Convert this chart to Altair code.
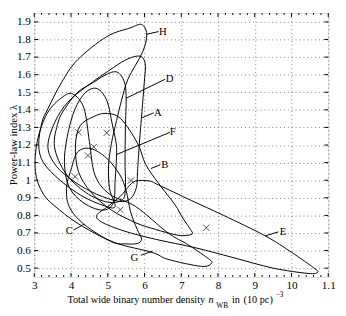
import altair as alt
import pandas as pd

# ---------------- data ----------------
X_TICKS = [3, 4, 5, 6, 7, 8, 9, 10, 11]
X_TICK_LABELS = ["3", "4", "5", "6", "7", "8", "9", "10", "1.1"]
Y_TICKS = [0.5, 0.6, 0.7, 0.8, 0.9, 1.0, 1.1, 1.2, 1.3, 1.4, 1.5, 1.6, 1.7, 1.8, 1.9]
Y_TICK_LABELS = ["0.5", "0.6", "0.7", "0.8", "0.9", "1", "1.1", "1.2", "1.3", "1.4",
                 "1.5", "1.6", "1.7", "1.8", "1.9"]
X_MINOR = [round(m + k * 0.2, 1) for m in X_TICKS[:-1] for k in (1, 2, 3, 4)]

H_X = [5.60, 5.92, 6.06, 5.95, 5.55, 5.37, 5.24, 5.10, 5.02, 5.05, 5.20, 4.90, 4.30, 3.70, 3.25, 3.12, 3.21, 3.38, 3.74, 4.18, 4.97]
H_Y = [1.865, 1.885, 1.83, 1.73, 1.575, 1.45, 1.34, 1.21, 1.08, 0.95, 0.85, 0.855, 0.91, 1.00, 1.10, 1.20, 1.33, 1.41, 1.555, 1.685, 1.816]

A_X = [5.55, 5.88, 6.02, 5.99, 5.93, 5.86, 5.81, 5.78, 5.62, 5.30, 4.70, 4.10, 3.60, 3.37, 3.56, 3.91, 4.44, 5.15]
A_Y = [1.69, 1.705, 1.66, 1.55, 1.39, 1.21, 1.05, 0.96, 0.895, 0.88, 0.92, 0.99, 1.08, 1.19, 1.33, 1.443, 1.536, 1.64]

D_X = [4.95, 5.25, 5.45, 5.50, 5.48, 5.47, 5.48, 5.40, 5.00, 4.40, 3.85, 3.55, 3.65, 3.83, 4.18, 4.61]
D_Y = [1.60, 1.615, 1.56, 1.466, 1.30, 1.10, 0.96, 0.89, 0.875, 0.93, 1.04, 1.19, 1.33, 1.406, 1.50, 1.556]

F_X = [4.40, 4.72, 4.98, 5.12, 5.22, 5.24, 5.20, 5.15, 4.85, 4.35, 3.95, 3.82, 3.90, 4.10]
F_Y = [1.50, 1.52, 1.45, 1.32, 1.22, 1.146, 1.00, 0.87, 0.83, 0.87, 0.96, 1.10, 1.25, 1.40]

B_X = [4.60, 4.95, 5.35, 5.81, 6.03, 6.39, 6.83, 7.04, 7.25, 7.30, 7.10, 6.83, 6.30, 5.77, 5.10, 4.55, 4.20, 4.12, 4.25]
B_Y = [1.36, 1.38, 1.35, 1.21, 1.09, 0.98, 0.86, 0.785, 0.72, 0.695, 0.685, 0.69, 0.72, 0.757, 0.83, 0.93, 1.05, 1.20, 1.31]

C_X = [4.18, 4.53, 4.97, 5.33, 5.50, 5.62, 5.80, 5.92, 5.80, 5.50, 5.10, 4.35, 3.95, 3.88, 4.00]
C_Y = [1.16, 1.18, 1.125, 1.03, 0.94, 0.82, 0.72, 0.665, 0.64, 0.638, 0.65, 0.75, 0.85, 0.96, 1.06]

G_X = [3.75, 4.05, 4.35, 4.50, 4.65, 5.05, 5.76, 6.64, 7.17, 7.70, 7.83, 7.55, 6.64, 6.20, 5.19, 4.31, 3.69, 3.25, 3.03, 3.08, 3.35]
G_Y = [1.47, 1.49, 1.41, 1.22, 1.03, 0.92, 0.85, 0.70, 0.635, 0.56, 0.53, 0.51, 0.55, 0.59, 0.645, 0.738, 0.83, 0.92, 1.05, 1.22, 1.38]

E_X = [5.55, 5.75, 6.12, 6.39, 7.27, 8.15, 9.28, 10.0, 10.55, 10.72, 10.45, 9.50, 8.41, 7.40, 6.30, 5.46, 4.85, 4.70, 5.00, 5.35]
E_Y = [0.96, 0.995, 0.996, 0.972, 0.885, 0.80, 0.684, 0.59, 0.51, 0.478, 0.47, 0.50, 0.56, 0.615, 0.664, 0.71, 0.76, 0.80, 0.85, 0.91]

CURVES = {"H": (H_X, H_Y), "A": (A_X, A_Y), "D": (D_X, D_Y), "F": (F_X, F_Y),
          "B": (B_X, B_Y), "C": (C_X, C_Y), "G": (G_X, G_Y), "E": (E_X, E_Y)}

MARK_X = [4.205, 4.97, 4.62, 4.46, 4.11, 5.63, 5.34, 7.68]
MARK_Y = [1.272, 1.269, 1.189, 1.140, 1.020, 0.998, 0.832, 0.730]

LABEL_NAMES = ["H", "D", "A", "F", "B", "C", "G", "E"]
LABEL_X = [6.50, 6.68, 6.36, 6.77, 6.55, 3.95, 5.72, 9.77]
LABEL_Y = [1.845, 1.574, 1.383, 1.272, 1.084, 0.713, 0.557, 0.706]
LEAD_X1 = [6.06, 5.50, 5.93, 5.24, 6.17, 4.36, 6.21, 9.29]
LEAD_Y1 = [1.83, 1.466, 1.355, 1.146, 1.066, 0.75, 0.596, 0.684]
LEAD_X2 = [6.38, 6.56, 6.25, 6.69, 6.43, 4.07, 5.90, 9.64]
LEAD_Y2 = [1.845, 1.574, 1.383, 1.272, 1.088, 0.717, 0.573, 0.706]

Y_TITLE = "Power-law index λ"
X_TITLE_1 = "Total wide binary number density"
X_TITLE_N = "n"
X_TITLE_SUB = "WB"
X_TITLE_2 = "in"
X_TITLE_3 = "(10 pc)"
X_TITLE_SUP = "−3"

# ---------------- tables ----------------
rows = []
for name, (xs_, ys_) in CURVES.items():
    for i, (a, b) in enumerate(zip(xs_, ys_)):
        rows.append({"curve": name, "i": i, "x": a, "y": b})
curves_df = pd.DataFrame(rows)
marks_df = pd.DataFrame({"x": MARK_X, "y": MARK_Y})
labels_df = pd.DataFrame({"t": LABEL_NAMES, "x": LABEL_X, "y": LABEL_Y})
leads_df = pd.DataFrame({"x": LEAD_X1, "y": LEAD_Y1, "x2": LEAD_X2, "y2": LEAD_Y2})
xt_df = pd.DataFrame({"t": X_TICKS})
xm_df = pd.DataFrame({"t": X_MINOR})
yt_df = pd.DataFrame({"t": Y_TICKS})

FONT = "Liberation Serif"
W, H = 302, 271
xs = alt.Scale(domain=[3, 11], nice=False, zero=False)
ys = alt.Scale(domain=[0.45, 1.95], nice=False, zero=False)

x_expr = " : ".join(f"datum.value == {v} ? '{l}'" for v, l in zip(X_TICKS, X_TICK_LABELS)) + " : datum.label"
y_expr = " : ".join(f"abs(datum.value - {v}) < 0.001 ? '{l}'" for v, l in zip(Y_TICKS, Y_TICK_LABELS)) + " : datum.label"

x_axis = alt.Axis(values=X_TICKS, labelExpr=x_expr, grid=True, gridDash=[1, 3], gridColor="#000",
                  gridOpacity=0.5, domain=False, ticks=False, tickSize=0, labelPadding=3,
                  labelFont=FONT, labelFontSize=11.5, labelColor="#000", title=None, labelFlush=False)
y_axis = alt.Axis(values=Y_TICKS, labelExpr=y_expr, grid=True, gridDash=[1, 3], gridColor="#000",
                  gridOpacity=0.5, domain=False, ticks=False, tickSize=0, labelPadding=4,
                  labelFont=FONT, labelFontSize=11.5, labelColor="#000", title=None, labelFlush=False)

X = lambda f: alt.X(f, scale=xs, axis=x_axis)
Y = lambda f: alt.Y(f, scale=ys, axis=y_axis)

curves = alt.Chart(curves_df).mark_line(
    interpolate="cardinal-closed", color="#000", strokeWidth=1, clip=True
).encode(x=X("x:Q"), y=Y("y:Q"), detail="curve:N", order="i:Q")

markers = alt.Chart(marks_df).mark_point(
    shape="M-1,-1L1,1M-1,1L1,-1", size=40, filled=False, color="#000", strokeWidth=1
).encode(x=X("x:Q"), y=Y("y:Q"))

leaders = alt.Chart(leads_df).mark_rule(color="#000", strokeWidth=1).encode(
    x=X("x:Q"), y=Y("y:Q"), x2="x2:Q", y2="y2:Q")

labels = alt.Chart(labels_df).mark_text(
    font=FONT, fontSize=11, color="#000", align="center", baseline="middle"
).encode(x=X("x:Q"), y=Y("y:Q"), text="t:N")

def xtick(df, y0, y1):
    return alt.Chart(df).mark_rule(color="#000", strokeWidth=1).encode(
        x=X("t:Q"), y=alt.value(y0), y2=alt.value(y1))

def ytick(x0, x1):
    return alt.Chart(yt_df).mark_rule(color="#000", strokeWidth=1).encode(
        y=Y("t:Q"), x=alt.value(x0), x2=alt.value(x1))

ticks = [xtick(xt_df, H, H - 4), xtick(xt_df, 0, 4), xtick(xm_df, H, H - 2), xtick(xm_df, 0, 2),
         ytick(0, 4), ytick(W, W - 4)]

def txt(s, x, y, size=10.5, italic=False, align="left", angle=0):
    kw = dict(font=FONT, fontSize=size, color="#000", align=align, baseline="alphabetic")
    if italic:
        kw["fontStyle"] = "italic"
    if angle:
        kw["angle"] = angle
        kw["baseline"] = "middle"
    return alt.Chart(pd.DataFrame({"s": [s]})).mark_text(**kw).encode(
        x=alt.value(x), y=alt.value(y), text="s:N")

titles = [
    txt(Y_TITLE, -21, H / 2, size=11, align="center", angle=270),
    txt(X_TITLE_1, 34, 298),
    txt(X_TITLE_N, 179, 298, italic=True),
    txt(X_TITLE_SUB, 187, 303, size=7.5),
    txt(X_TITLE_2, 203, 298),
    txt(X_TITLE_3, 215, 298),
    txt(X_TITLE_SUP, 248, 292, size=7.5),
]

chart = alt.layer(curves, markers, leaders, labels, *ticks, *titles).properties(
    width=W, height=H,
    autosize=alt.AutoSizeParams(type="none"),
    padding={"left": 27, "top": 1, "right": 10, "bottom": 40},
).configure_view(stroke="#000", strokeWidth=1).configure(background="white")

chart.save("out.html", embed_options={"renderer": "svg", "actions": False})
